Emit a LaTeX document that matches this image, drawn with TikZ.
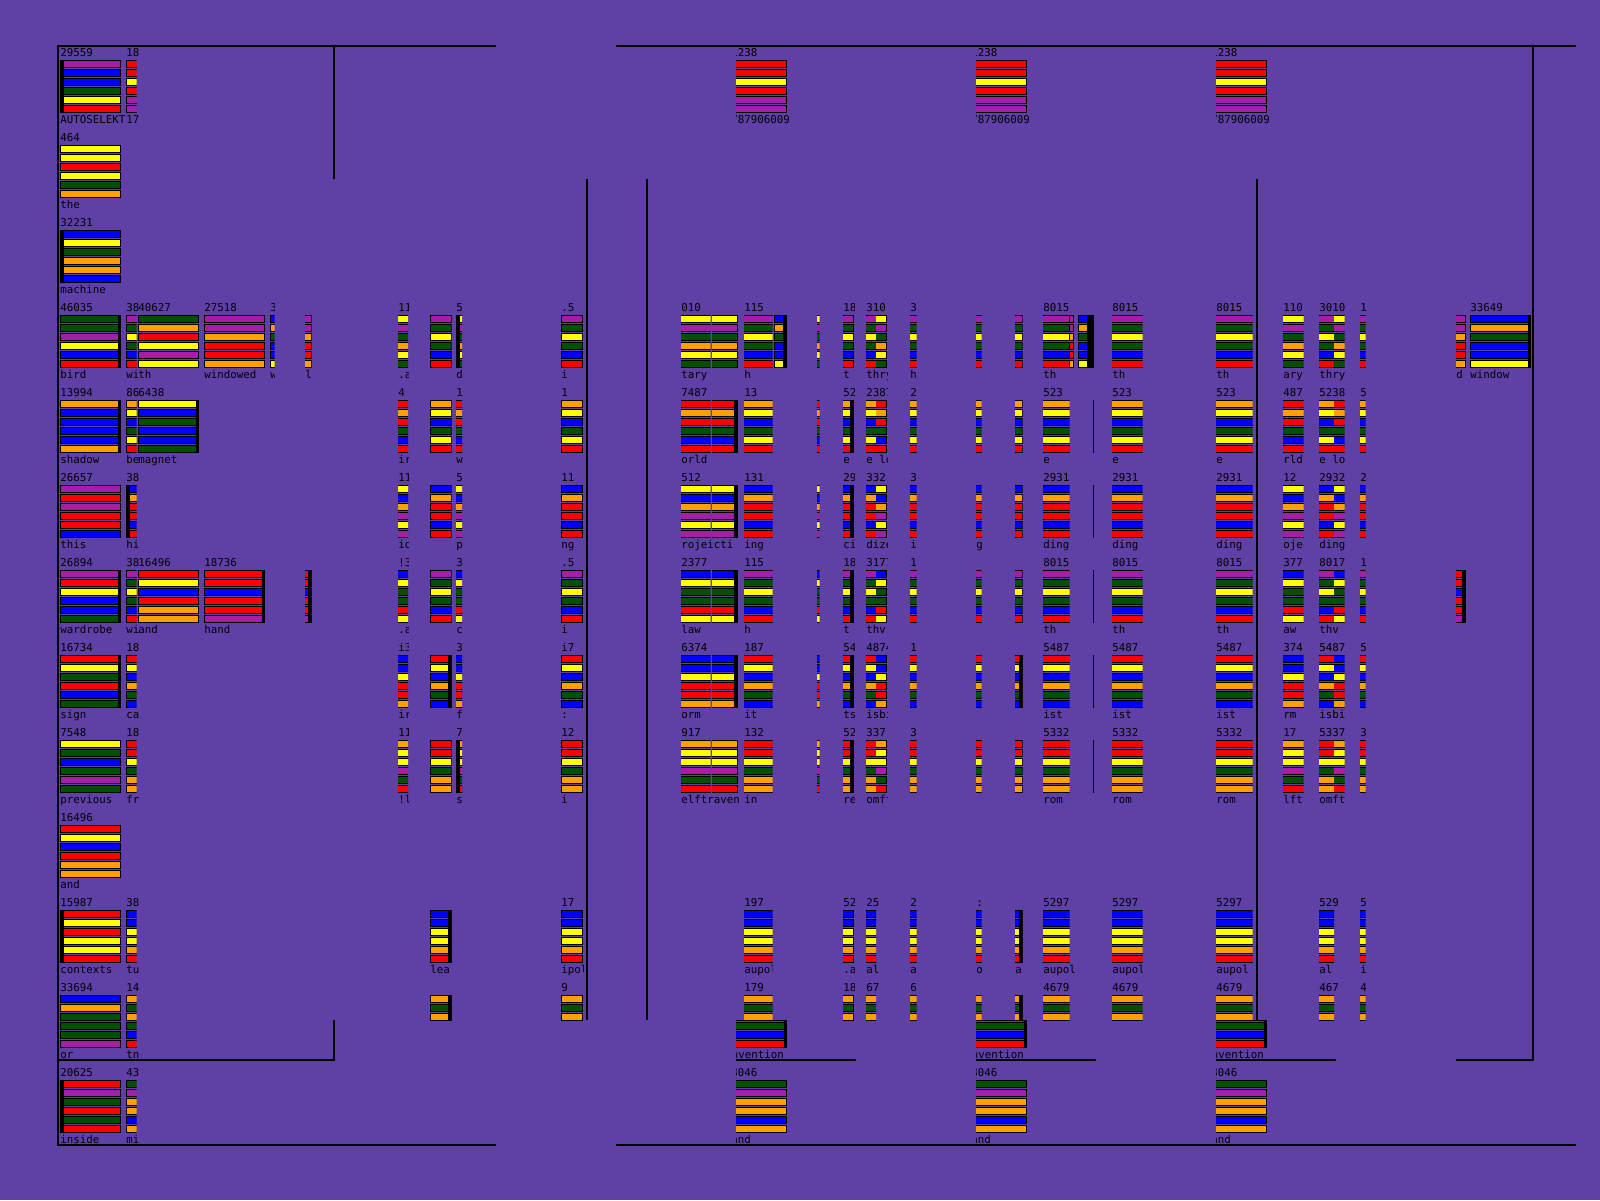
\documentclass[tikz,border=0pt]{standalone}
\usepackage{fontspec}
\newfontfamily\pxfont{DejaVu Sans Mono}
\definecolor{bgC}{RGB}{94, 64, 166}
\definecolor{rdC}{RGB}{255, 0, 0}
\definecolor{blC}{RGB}{0, 0, 255}
\definecolor{ylC}{RGB}{255, 255, 0}
\definecolor{gnC}{RGB}{0, 80, 0}
\definecolor{orC}{RGB}{255, 160, 0}
\definecolor{puC}{RGB}{165, 30, 165}
\tikzset{
  bar/.style   = {draw=black, line width=0.5pt},
  frame/.style = {draw=black, line width=0.7pt},
  txt/.style   = {font=\pxfont\fontsize{5.4}{6}\selectfont, inner sep=0pt,
                  anchor=base west, text=black},
}
% colour stacks of the repeated tokens
\def\Athree{ylC,puC,gnC,orC,ylC,gnC}
\def\Bthree{puC,gnC,ylC,gnC,blC,rdC}
\def\Afour{rdC,orC,rdC,gnC,blC,rdC}
\def\Bfour{orC,ylC,blC,gnC,ylC,rdC}
\def\Afive{ylC,blC,orC,puC,ylC,puC}
\def\Bfive{blC,orC,rdC,rdC,blC,rdC}
\def\Asix{blC,ylC,gnC,gnC,rdC,ylC}
\def\Aseven{blC,blC,ylC,rdC,rdC,orC}
\def\Bseven{rdC,ylC,blC,orC,gnC,blC}
\def\Aeight{orC,ylC,ylC,puC,gnC,rdC}
\def\Beight{rdC,rdC,ylC,gnC,orC,orC}
\def\Bten{blC,blC,ylC,ylC,orC,rdC}
\def\Beleven{orC,gnC,orC,gnC,blC,rdC}
\def\Tzero{rdC,rdC,ylC,rdC,puC,puC}
\def\Ttwelve{gnC,puC,orC,orC,blC,orC}
\def\Twin{blC,orC,gnC,blC,blC,ylC}
\def\Twd{puC,puC,orC,rdC,rdC,orC}
\def\Thand{rdC,rdC,blC,rdC,rdC,puC}
\def\Tand{rdC,ylC,blC,rdC,orC,orC}
\def\Arows{3/\Athree,4/\Afour,5/\Afive,6/\Asix,7/\Aseven,8/\Aeight}
\def\Brows{3/\Bthree,4/\Bfour,5/\Bfive,6/\Bthree,7/\Bseven,8/\Beight,10/\Bten,11/\Beleven}
\def\Btexts{3/8015/th,4/523/e,5/2931/ding,6/8015/th,7/5487/ist,8/5332/rom,10/5297/aupol,11/4679/{}}
% token = six bars; row r starts at y = 60 + 85 r
\newcommand\tok[4]{%
  \edef\cols{#4}%
  \foreach \cc [count=\k from 0] in \cols
    \draw[bar, fill=\cc] ({#1+0.5},{60.5+85*#2+9*\k}) rectangle ++({#3-1},6.7);}
\newcommand\blk[2]{\fill[black] (#1,{60+85*#2}) rectangle ++(3.5,53);}
\newcommand\lab[4]{%
  \node[txt] (n-#1-#2) at (#1,{56+85*#2}) {#3};
  \node[txt] (w-#1-#2) at (#1,{123+85*#2}) {#4};}

\begin{document}
\begin{tikzpicture}[x=0.5pt, y=-0.5pt]
\useasboundingbox (0,0) rectangle (1600,1200);
\fill[bgC] (0,0) rectangle (1600,1200);

% ---- Frames -----------------------------------------------------------------
\draw[frame] (496,46) -- (58,46) -- (58,1145) -- (496,1145);
\draw[frame] (334,46) -- (334,179);
\draw[frame] (58,1060) -- (334,1060) -- (334,1020);
\draw[frame] (587,179) -- (587,1020);
\draw[frame] (647,179) -- (647,1020);
\draw[frame] (616,46) -- (1576,46);
\draw[frame] (616,1145) -- (1576,1145);
\draw[frame] (1456,1060) -- (1533,1060) -- (1533,46);
\draw[frame] (1257,179) -- (1257,1020);

% ---- Left column ------------------------------------------------------------
\tok{60}{0}{61}{puC,blC,blC,gnC,ylC,rdC}  \blk{60}{0}    \lab{60}{0}{29559}{AUTOSELEKT}
\tok{60}{1}{61}{ylC,ylC,rdC,ylC,gnC,orC}                 \lab{60}{1}{464}{the}
\tok{60}{2}{61}{blC,ylC,gnC,orC,orC,blC}  \blk{60}{2}    \lab{60}{2}{32231}{machine}
\tok{60}{3}{61}{gnC,gnC,puC,ylC,blC,rdC}  \blk{117.5}{3} \lab{60}{3}{46035}{bird}
\tok{60}{4}{61}{orC,blC,blC,blC,blC,orC}  \blk{117.5}{4} \lab{60}{4}{13994}{shadow}
\tok{60}{5}{61}{puC,rdC,puC,rdC,rdC,blC}                 \lab{60}{5}{26657}{this}
\tok{60}{6}{61}{puC,rdC,ylC,blC,blC,gnC}  \blk{117.5}{6} \lab{60}{6}{26894}{wardrobe}
\tok{60}{7}{61}{rdC,ylC,gnC,rdC,blC,gnC}  \blk{117.5}{7} \lab{60}{7}{16734}{sign}
\tok{60}{8}{61}{ylC,gnC,blC,gnC,puC,gnC}                 \lab{60}{8}{7548}{previous}
\tok{60}{9}{61}{\Tand}                                   \lab{60}{9}{16496}{and}
\tok{60}{10}{61}{rdC,ylC,rdC,ylC,ylC,rdC} \blk{60}{10}   \lab{60}{10}{15987}{contexts}
\tok{60}{11}{61}{blC,orC,gnC,gnC,gnC,puC}                \lab{60}{11}{33694}{or}
\tok{60}{12}{61}{rdC,puC,gnC,rdC,gnC,rdC} \blk{60}{12}   \lab{60}{12}{20625}{inside}

\begin{scope}
  \clip (126,40) rectangle (136.5,1148);
  \foreach \r/\c in {0/\Tzero,3/\Bthree,4/\Bfour,5/\Bfive,6/\Bthree,7/\Bseven,
                     8/\Beight,10/\Bten,11/\Beleven,12/\Ttwelve}
    {\tok{126}{\r}{61}{\c}}
  \blk{126}{5}
\end{scope}
\begin{scope}
  \clip (126,40) rectangle (138,1148);
  \foreach \r/\n/\w in {0/18/17,3/38/wi,4/86/be,5/38/hi,6/38/wi,7/18/ca,
                        8/18/fr,10/38/tu,11/14/tn,12/43/mi}
    {\lab{126}{\r}{\n}{\w}}
\end{scope}

\tok{138}{3}{61}{gnC,orC,rdC,ylC,puC,ylC}                \lab{138}{3}{40627}{th}
\tok{138}{4}{61}{ylC,blC,gnC,blC,blC,gnC} \blk{195.5}{4} \lab{138}{4}{6438}{magnet}
\tok{138}{6}{61}{\Tand}                                  \lab{138}{6}{16496}{and}
\tok{204}{3}{61}{\Twd}                                   \lab{204}{3}{27518}{windowed}
\tok{204}{6}{61}{\Thand}                  \blk{261.5}{6} \lab{204}{6}{18736}{hand}

\begin{scope}
  \clip (270,40) rectangle (274.5,1140);
  \tok{270}{3}{61}{\Twin} \lab{270}{3}{3}{w}
\end{scope}
\begin{scope}
  \clip (305,40) rectangle (311.5,1140);
  \tok{290}{3}{21.5}{\Twd} \tok{290}{6}{21.5}{\Thand} \blk{308}{6}
  \lab{305}{3}{}{l}
\end{scope}

% ---- Left pane --------------------------------------------------------------
\begin{scope}
  \clip (398,179) rectangle (408,1020);
  \foreach \r/\c in \Arows {\tok{380}{\r}{61}{\c}}
  \foreach \r/\n/\w in {3/11/.a,4/4/ir,5/11/io,6/!3/.a,7/i3/ir,8/11/!l}
    {\lab{398}{\r}{\n}{\w}}
\end{scope}
\begin{scope}
  \clip (430,179) rectangle (451.5,1020);
  \foreach \r/\c in \Brows {\tok{430}{\r}{21.5}{\c}}
  \foreach \r in {7,10,11} {\blk{448}{\r}}
  \lab{430}{10}{}{lea}
\end{scope}
\begin{scope}
  \clip (456,179) rectangle (462,1020);
  \foreach \r/\c in \Arows {\tok{440}{\r}{40}{\c}}
  \foreach \r in {3,8} {\blk{456}{\r}}
  \foreach \r/\n/\w in {3/5/d,4/1/w,5/5/p,6/3/c,7/3/f,8/7/s}
    {\lab{456}{\r}{\n}{\w}}
\end{scope}
\begin{scope}
  \clip (561,179) rectangle (583,1020);
  \foreach \r/\c in \Brows {\tok{561}{\r}{21.5}{\c}}
  \foreach \r/\n/\w in {3/.5/i,4/1/{},5/11/ng,6/.5/i,7/i7/:,8/12/i,10/17/ipol,11/9/{}}
    {\lab{561}{\r}{\n}{\w}}
\end{scope}

% ---- Right pane -------------------------------------------------------------
\begin{scope}
  \clip (681,179) rectangle (710.5,1020);
  \foreach \r/\c in \Arows {\tok{660}{\r}{80}{\c}}
\end{scope}
\begin{scope}
  \clip (712,179) rectangle (738,1020);
  \foreach \r/\c in \Arows {\tok{700}{\r}{38}{\c}}
  \foreach \r in {4,...,7} {\blk{734}{\r}}
\end{scope}
\begin{scope}
  \clip (681,179) rectangle (743,1020);
  \foreach \r/\n/\w in {3/010/tary,4/7487/orld,5/512/rojeicti,6/2377/law,
                        7/6374/orm,8/917/elftraven}
    {\lab{681}{\r}{\n}{\w}}
\end{scope}

\begin{scope}
  \clip (744,179) rectangle (772.5,1020);
  \foreach \r/\c in \Brows {\tok{730}{\r}{60}{\c}}
  \foreach \r/\n/\w in {3/115/h,4/13/{},5/131/ing,6/115/h,7/187/it,8/132/in,
                        10/197/aupol,11/179/{}}
    {\lab{744}{\r}{\n}{\w}}
\end{scope}
\tok{774}{3}{12.5}{\Twin} \blk{783}{3}

\begin{scope}
  \clip (817,179) rectangle (819.5,1020);
  \foreach \r/\c in \Arows {\tok{800}{\r}{40}{\c}}
\end{scope}

\begin{scope}
  \clip (843,179) rectangle (854,1020);
  \foreach \r/\c in \Brows {\tok{830}{\r}{23.5}{\c}}
  \foreach \r in {4,...,8} {\blk{850}{\r}}
  \foreach \r/\n/\w in {3/18/t,4/52/e,5/29/ci,6/18/t,7/54/ts,8/52/rei,10/52/.a,11/18/{}}
    {\lab{843}{\r}{\n}{\w}}
\end{scope}

\begin{scope}
  \clip (866,179) rectangle (876,1020);
  \foreach \r/\c in \Brows {\tok{850}{\r}{40}{\c}}
\end{scope}
\begin{scope}
  \clip (876,179) rectangle (887,1020);
  \foreach \r/\c in \Arows {\tok{860}{\r}{26.5}{\c}}
\end{scope}
\begin{scope}
  \clip (866,179) rectangle (887,1020);
  \foreach \r/\n/\w in {3/310/thry,4/2387/e\ lo,5/332/dize,6/3177/thv,7/4874/isbi,
                        8/337/omft,10/25/al,11/67/{}}
    {\lab{866}{\r}{\n}{\w}}
\end{scope}

\begin{scope}
  \clip (910,179) rectangle (916.5,1020);
  \foreach \r/\c in \Brows {\tok{890}{\r}{40}{\c}}
  \foreach \r/\n/\w in {3/31/h,4/23/{},5/33/i,6/11/{},7/18/{},8/33/{},10/25/al,11/67/{}}
    {\lab{910}{\r}{\n}{\w}}
\end{scope}

\begin{scope}
  \clip (976,179) rectangle (981.5,1020);
  \foreach \r/\c in \Brows {\tok{960}{\r}{40}{\c}}
  \lab{976}{5}{}{g} \lab{976}{10}{:}{o}
\end{scope}

\begin{scope}
  \clip (1015,179) rectangle (1022.5,1020);
  \foreach \r/\c in \Brows {\tok{990}{\r}{32.5}{\c}}
  \foreach \r in {7,10,11} {\blk{1019}{\r}}
  \lab{1015}{10}{}{a}
\end{scope}

\begin{scope}
  \clip (1043,179) rectangle (1069.5,1020);
  \foreach \r/\c in \Brows {\tok{1020}{\r}{60}{\c}}
\end{scope}
\tok{1069}{3}{4.5}{\Twd}
\tok{1078}{3}{9.5}{\Twin} \blk{1087}{3} \blk{1089}{3}
\foreach \r in {3,...,8} {\draw[bar] (1093,{60+85*\r}) -- ++(0,53);}
\begin{scope}
  \clip (1043,179) rectangle (1078,1020);
  \foreach \r/\n/\w in \Btexts {\lab{1043}{\r}{\n}{\w}}
\end{scope}

\begin{scope}
  \clip (1112,179) rectangle (1142.5,1020);
  \foreach \r/\c in \Brows {\tok{1095}{\r}{60}{\c}}
  \foreach \r/\n/\w in \Btexts {\lab{1112}{\r}{\n}{\w}}
\end{scope}

\begin{scope}
  \clip (1216,179) rectangle (1252.5,1020);
  \foreach \r/\c in \Brows {\tok{1200}{\r}{70}{\c}}
  \foreach \r/\n/\w in \Btexts {\lab{1216}{\r}{\n}{\w}}
\end{scope}

\begin{scope}
  \clip (1283,179) rectangle (1303.5,1020);
  \foreach \r/\c in \Arows {\tok{1265}{\r}{40}{\c}}
  \foreach \r/\n/\w in {3/110/ary,4/487/rld,5/12/ojec,6/377/aw,7/374/rm,8/17/lft}
    {\lab{1283}{\r}{\n}{\w}}
\end{scope}

\begin{scope}
  \clip (1319,179) rectangle (1334,1020);
  \foreach \r/\c in \Brows {\tok{1300}{\r}{60}{\c}}
\end{scope}
\begin{scope}
  \clip (1334,179) rectangle (1344.5,1020);
  \foreach \r/\c in \Arows {\tok{1320}{\r}{40}{\c}}
\end{scope}
\begin{scope}
  \clip (1319,179) rectangle (1345,1020);
  \foreach \r/\n/\w in {3/3010/thry,4/5238/e\ lo,5/2932/ding,6/8017/thv,7/5487/isbi,
                        8/5337/omft,10/529/al,11/467/{}}
    {\lab{1319}{\r}{\n}{\w}}
\end{scope}

\begin{scope}
  \clip (1360,179) rectangle (1365.5,1020);
  \foreach \r/\c in \Brows {\tok{1340}{\r}{40}{\c}}
  \foreach \r/\n/\w in {3/1/{},4/5/{},5/2/{},6/1/{},7/5/{},8/3/{},10/5/i,11/4/{}}
    {\lab{1360}{\r}{\n}{\w}}
\end{scope}

\begin{scope}
  \clip (1456,179) rectangle (1466,1020);
  \tok{1420}{3}{45.5}{\Twd} \tok{1420}{6}{45.5}{\Thand} \blk{1462}{6}
  \lab{1456}{3}{}{d}
\end{scope}
\tok{1470}{3}{61}{\Twin} \blk{1527.5}{3} \lab{1470}{3}{33649}{window}

% ---- Right: tokens above and below the pane ---------------------------------
\foreach \x [evaluate=\x as \xt using int(\x-5)] in {736,976,1216} {
  \begin{scope}
    \clip (\x,40) rectangle ({\x+52},1148);
    \tok{\xt-5}{0}{61}{\Tzero}    \lab{\xt}{0}{1238}{787906009}
    \tok{\xt-5}{12}{61}{\Ttwelve} \lab{\xt}{12}{3046}{and}
  \end{scope}
  \begin{scope}
    \clip (\x,1020) rectangle ({\x+52},1064);
    \tok{\xt-5}{11}{61}{\Beleven} \blk{\x+47.5}{11}
    \node[txt] (iv-\x) at ({\x-11},1058) {invention};
  \end{scope}
  \draw[frame] (\x,1060) -- ({\x+120},1060);
}

\end{tikzpicture}
\end{document}
